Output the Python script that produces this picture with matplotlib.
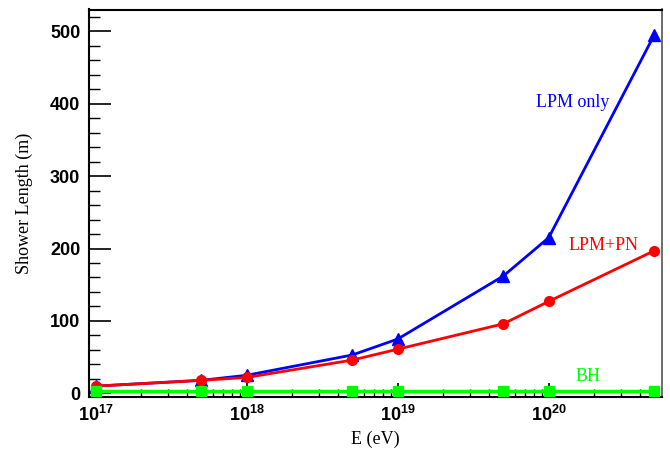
import math
import matplotlib
matplotlib.use("Agg")
import matplotlib.pyplot as plt
from matplotlib.ticker import LogLocator, MultipleLocator, FuncFormatter

energy = [1e17, 5e17, 1e18, 5e18, 1e19, 5e19, 1e20, 5e20]
lpm_only = [10, 18, 25, 53, 75, 162, 215, 495]
lpm_pn = [10, 18, 22, 46, 61, 96, 127, 197]
bh = [3.3, 3.3, 3.3, 3.3, 3.3, 3.3, 3.3, 3.3]

plt.rcParams['mathtext.fontset'] = 'custom'
plt.rcParams['mathtext.bf'] = 'Liberation Sans:bold'
plt.rcParams['mathtext.rm'] = 'Liberation Sans'

fig = plt.figure(figsize=(6.7, 4.54), dpi=100)
ax = fig.add_axes([88.7/670, 1 - 397/454, (661.7-88.7)/670, (397-9.5)/454])

ax.plot(energy, lpm_only, color='#0000ff', lw=2.0, marker='^', ms=8, zorder=3)
ax.plot(energy, lpm_pn, color='#ff0000', lw=2.0, marker='o', ms=7, zorder=4)
ax.plot(energy, bh, color='#00ff00', lw=2.5, marker='s', ms=7, zorder=5)

ax.set_xscale('log')
ax.set_xlim(10**16.954, 10**20.748)
ax.set_ylim(-5, 530)

ax.yaxis.set_major_locator(MultipleLocator(100))
ax.yaxis.set_minor_locator(MultipleLocator(20))
ax.xaxis.set_major_locator(LogLocator(base=10, numticks=10))
ax.xaxis.set_minor_locator(LogLocator(base=10, subs=range(2, 10), numticks=20))

def xfmt(v, pos):
    e = int(round(math.log10(v)))
    return r'$\mathbf{10^{%d}}$' % e
ax.xaxis.set_major_formatter(FuncFormatter(xfmt))

ax.tick_params(which='both', direction='in', top=False, right=False)
ax.tick_params(axis='y', which='major', length=16, width=1.2, labelsize=13, pad=6)
ax.tick_params(axis='y', which='minor', length=8, width=1.0)
ax.tick_params(axis='x', which='major', length=10, width=1.2, labelsize=13, pad=6)
ax.tick_params(axis='x', which='minor', length=6, width=1.0)
for lab in ax.get_yticklabels():
    lab.set_fontfamily('Liberation Sans')
    lab.set_fontweight('bold')

for s in ['left', 'bottom', 'top']:
    ax.spines[s].set_linewidth(1.5)
ax.spines['right'].set_linewidth(1.2)
ax.spines['right'].set_color('#555555')

ax.set_xlabel('E (eV)', family='Liberation Serif', fontsize=13, labelpad=4)
ax.set_ylabel('Shower Length (m)', family='Liberation Serif', fontsize=13, labelpad=12)

ax.text(0.845, 0.761, 'LPM only', transform=ax.transAxes, color='#0000ff',
        family='Liberation Serif', fontsize=13, ha='center', va='center')
ax.text(0.898, 0.39, 'LPM+PN', transform=ax.transAxes, color='#ff0000',
        family='Liberation Serif', fontsize=13, ha='center', va='center')
ax.text(0.872, 0.052, 'BH', transform=ax.transAxes, color='#00ff00',
        family='Liberation Serif', fontsize=13, ha='center', va='center')

fig.savefig('out.png', dpi=100)
